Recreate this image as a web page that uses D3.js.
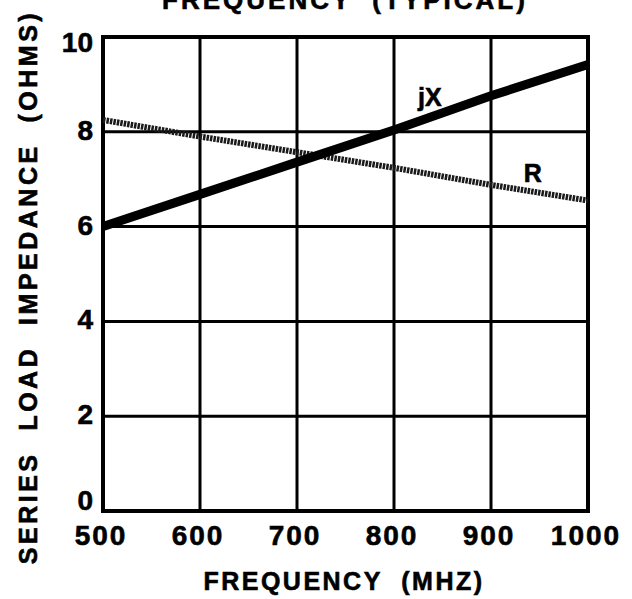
<!DOCTYPE html>
<html>
<head>
<meta charset="utf-8">
<script src="https://cdn.jsdelivr.net/npm/d3@7"></script>
<style>
  body { margin: 0; background: #fff; }
  svg { display: block; }
  text { font-family: "Liberation Sans", Arial, sans-serif; font-weight: bold; fill: #000; stroke: #000; stroke-width: 0.6px; }
</style>
</head>
<body>
<svg id="chart"></svg>
<script>
// Data
const freqs = [500, 600, 700, 800, 900, 1000];
const jX = [6.0, 6.68, 7.36, 8.04, 8.76, 9.42];
const R = [8.25, 7.9, 7.57, 7.24, 6.88, 6.55];
const xTicks = [500, 600, 700, 800, 900, 1000];
const yTicks = [0, 2, 4, 6, 8, 10];

const width = 632, height = 599;
const margin = { top: 37, right: 44, bottom: 88, left: 103 };

const svg = d3.select('#chart')
    .attr('width', width)
    .attr('height', height);

const x = d3.scaleLinear().domain([500, 1000]).range([margin.left, width - margin.right]);
const y = d3.scaleLinear().domain([0, 10]).range([height - margin.bottom, margin.top]);

// Grid
const grid = svg.append('g').attr('class', 'grid');
grid.selectAll('line.v')
    .data(xTicks.slice(1, -1))
    .join('line')
    .attr('x1', d => x(d)).attr('x2', d => x(d))
    .attr('y1', y(0)).attr('y2', y(10))
    .attr('stroke', '#000').attr('stroke-width', 3);
grid.selectAll('line.h')
    .data(yTicks.slice(1, -1))
    .join('line')
    .attr('x1', x(500)).attr('x2', x(1000))
    .attr('y1', d => y(d)).attr('y2', d => y(d))
    .attr('stroke', '#000').attr('stroke-width', 3);

// Frame
svg.append('rect')
    .attr('x', x(500)).attr('y', y(10))
    .attr('width', x(1000) - x(500)).attr('height', y(0) - y(10))
    .attr('fill', 'none').attr('stroke', '#000').attr('stroke-width', 4);

// Series
const line = d3.line().x((d, i) => x(freqs[i])).y(d => y(d));

svg.append('path')
    .datum(R)
    .attr('d', line)
    .attr('fill', 'none')
    .attr('stroke', '#1a1a1a')
    .attr('stroke-width', 6)
    .attr('stroke-dasharray', '2.5,1');

svg.append('path')
    .datum(jX)
    .attr('d', line)
    .attr('fill', 'none')
    .attr('stroke', '#000')
    .attr('stroke-width', 9);

// Series labels
svg.append('text').attr('x', x(837)).attr('y', y(8.55))
    .attr('text-anchor', 'middle').style('font-size', '25px').text('jX');
svg.append('text').attr('x', x(943)).attr('y', y(6.94))
    .attr('text-anchor', 'middle').style('font-size', '25px').text('R');

// Tick labels
svg.append('g').selectAll('text')
    .data(xTicks)
    .join('text')
    .attr('x', d => x(d) - 2)
    .attr('y', 545)
    .attr('text-anchor', 'middle')
    .style('font-size', '28px')
    .style('letter-spacing', '2px')
    .text(d => d);

svg.append('g').selectAll('text')
    .data(yTicks)
    .join('text')
    .attr('x', 93)
    .attr('y', d => y(d) + (d === 0 ? -1 : d === 10 ? 15 : 8))
    .attr('text-anchor', 'end')
    .style('font-size', '28px')
    .text(d => d);

// Axis titles
svg.append('text')
    .attr('x', 344)
    .attr('y', 590)
    .attr('text-anchor', 'middle')
    .style('font-size', '25px')
    .style('letter-spacing', '2.5px')
    .style('white-space', 'pre')
    .text('FREQUENCY  (MHZ)');

svg.append('text')
    .attr('transform', 'translate(37,287) rotate(-90)')
    .attr('text-anchor', 'middle')
    .style('font-size', '25px')
    .style('letter-spacing', '3.5px')
    .style('white-space', 'pre')
    .text('SERIES  LOAD  IMPEDANCE  (OHMS)');

// Title (cut off at top in the reference)
svg.append('text')
    .attr('x', 345)
    .attr('y', 9)
    .attr('text-anchor', 'middle')
    .style('font-size', '26px')
    .style('letter-spacing', '3px')
    .style('white-space', 'pre')
    .text('FREQUENCY  (TYPICAL)');
</script>
</body>
</html>
